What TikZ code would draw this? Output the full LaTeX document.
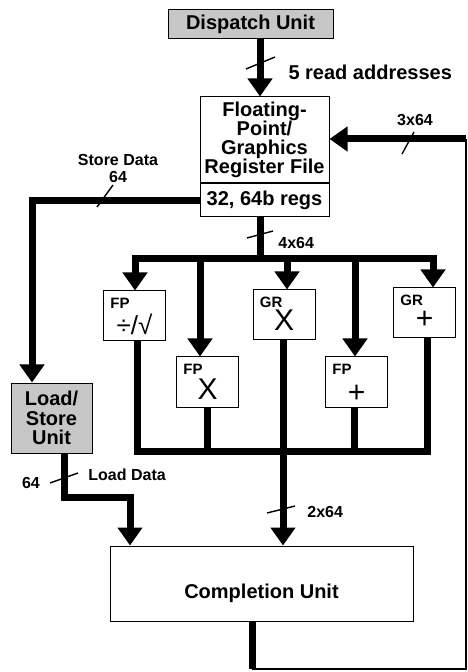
\documentclass[tikz,border=0pt]{standalone}
\usepackage{fontspec}
\setmainfont{Liberation Sans}
\usetikzlibrary{arrows.meta, positioning}

\tikzset{
  unit/.style={draw, line width=0.5pt, inner sep=0pt, align=center, font=\fontsize{10}{9.6}\selectfont\bfseries},
  shaded/.style={unit, fill=black!22},
  fu/.style={draw, line width=0.5pt, minimum width=31pt, minimum height=25pt, inner sep=0pt},
  tag/.style={anchor=north west, inner sep=0pt, font=\fontsize{7.5}{8}\selectfont\bfseries},
  sym/.style={inner sep=0pt, font=\fontsize{15}{16}\selectfont},
  bus/.style={line width=3.5pt},
  arr/.style={bus, -{Triangle[length=9pt, width=12pt]}},
  tick/.style={line width=0.7pt},
  lbl/.style={inner sep=0pt, font=\fontsize{8}{8.5}\selectfont\bfseries},
}

\begin{document}
\begin{tikzpicture}[x=0.5pt, y=-0.5pt]
  \useasboundingbox (0,0) rectangle (467,672);

  % units
  \node[shaded, minimum width=82.5pt, minimum height=14.5pt] (disp) at (250.5,24.5) {Dispatch Unit};
  \node[unit, minimum width=64.5pt, minimum height=43pt] (regtop) at (264.5,140) {Floating-\\Point/\\Graphics\\Register File};
  \node[unit, minimum width=64.5pt, minimum height=16.5pt, below=0pt of regtop] (regbot) {32, 64b regs};
  \node[shaded, minimum width=40.5pt, minimum height=35pt] (ls) at (51.5,418) {Load/\\Store\\Unit};
  \node[unit, minimum width=151.5pt, minimum height=37.5pt] (comp) at (261.5,583.5) {\raisebox{-7.6pt}[0pt][0pt]{Completion Unit}};

  % functional units
  \node[fu] (fpdiv) at (134.5,316) {};
  \node[fu] (fpmul) at (207.5,382) {};
  \node[fu] (grmul) at (284,315) {};
  \node[fu] (fpadd) at (356.5,382) {};
  \node[fu] (gradd) at (424.5,313) {};
  \node[tag] (fpdivtag) at ([shift={(3.5pt,-3.5pt)}]fpdiv.north west) {FP};
  \node[tag] (fpmultag) at ([shift={(3.5pt,-3.5pt)}]fpmul.north west) {FP};
  \node[tag] (grmultag) at ([shift={(3.5pt,-3.5pt)}]grmul.north west) {GR};
  \node[tag] (fpaddtag) at ([shift={(3.5pt,-3.5pt)}]fpadd.north west) {FP};
  \node[tag] (graddtag) at ([shift={(3.5pt,-3.5pt)}]gradd.north west) {GR};
  \node[sym, font=\fontsize{13}{14}\selectfont] (fpdivsym) at ([yshift=-4pt]fpdiv.center) {÷/√};
  \node[sym] (fpmulsym) at ([yshift=-3.5pt]fpmul.center) {X};
  \node[sym] (grmulsym) at ([yshift=-2.5pt]grmul.center) {X};
  \node[sym] (fpaddsym) at ([yshift=-6pt]fpadd.center) {+};
  \node[sym] (graddsym) at ([yshift=-3.5pt]gradd.center) {+};

  % bus points
  \coordinate (d0) at (260,0);
  \coordinate (t0) at (260,259);
  \coordinate (t1) at (135,259);
  \coordinate (t2) at (200,259);
  \coordinate (t3) at (287,259);
  \coordinate (t4) at (355,259);
  \coordinate (t5) at (433,259);
  \coordinate (o1) at (137,451);
  \coordinate (o2) at (207,451);
  \coordinate (o3) at (283,451);
  \coordinate (o4) at (354,451);
  \coordinate (o5) at (427,451);
  \coordinate (sd) at (32,0);
  \coordinate (ld) at (64,497);
  \coordinate (lc) at (130,0);
  \coordinate (fb1) at (252,669);
  \coordinate (fb2) at (466,669);
  \coordinate (fb3) at (466,139);

  % connectors
  \draw[arr] (disp.south -| d0) -- (regtop.north -| d0);
  \draw[arr] (fb3) -- (regtop.east |- fb3);
  \draw[arr] (regbot.west) -- (regbot.west -| sd) -- (ls.north -| sd);
  \draw[bus] (regbot.south -| t0) -- (t0);
  \draw[bus, line cap=rect] (t1) -- (t5);
  \draw[arr] (t1) -- (fpdiv.north -| t1);
  \draw[arr] (t2) -- (fpmul.north -| t2);
  \draw[arr] (t3) -- (grmul.north -| t3);
  \draw[arr] (t4) -- (fpadd.north -| t4);
  \draw[arr] (t5) -- (gradd.north -| t5);
  \draw[bus] (fpdiv.south -| o1) -- (o1);
  \draw[bus] (fpmul.south -| o2) -- (o2);
  \draw[bus] (grmul.south -| o3) -- (o3);
  \draw[bus] (fpadd.south -| o4) -- (o4);
  \draw[bus] (gradd.south -| o5) -- (o5);
  \draw[bus, line cap=rect] (o1) -- (o5);
  \draw[arr] (o3) -- (comp.north -| o3);
  \draw[arr] (ls.south -| ld) -- (ld) -- (ld -| lc) -- (comp.north -| lc);
  \draw[bus] (comp.south -| fb1) -- (fb1);
  \draw[line width=0.6pt] (fb1) -- (fb2) -- (fb3);

  % width marks
  \draw[tick] (246,69) -- (275,57);
  \draw[tick] (402,154) -- (414,132);
  \draw[tick] (97,207) -- (113,185);
  \draw[tick] (247,238) -- (273,231);
  \draw[tick] (267,513) -- (295,506);
  \draw[tick] (50,483) -- (78,473);

  % labels
  \node[unit, draw=none, anchor=west] (addrlbl) at (288,72) {5 read addresses};
  \node[lbl] (fblbl) at (415,120) {3x64};
  \node[lbl, align=center] (sdlbl) at (118,168) {Store Data\\64};
  \node[lbl, anchor=west] (fanlbl) at (278,243) {4x64};
  \node[lbl, anchor=west] (outlbl) at (307,512) {2x64};
  \node[lbl, anchor=west] (ldlbl) at (88,475) {Load Data};
  \node[lbl] (ldwlbl) at (31,483) {64};
\end{tikzpicture}
\end{document}
